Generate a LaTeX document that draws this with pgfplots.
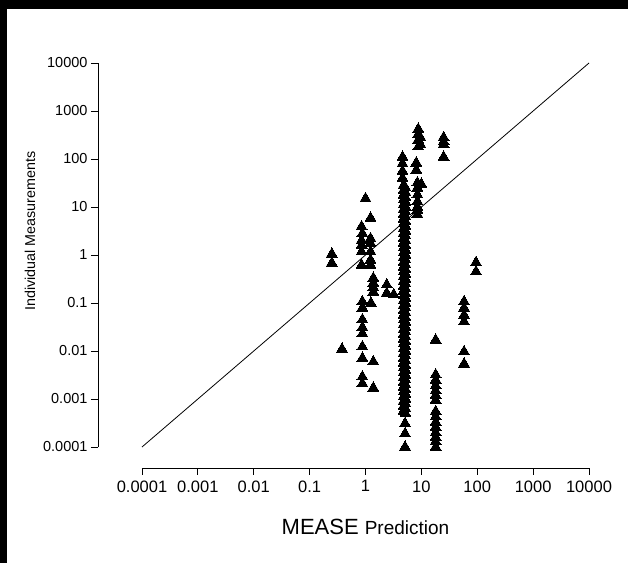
\documentclass[border=0pt]{standalone}
\usepackage{fontspec}
\setmainfont{Liberation Sans}
\usepackage{pgfplots}
\pgfplotsset{compat=1.18}
\begin{document}
\begin{tikzpicture}[x=1pt,y=1pt]
\useasboundingbox (0,0) rectangle (628,563);
\fill[white] (0,0) rectangle (628,563);
\fill[black] (0,554) rectangle (628,563);
\fill[black] (0,0) rectangle (7,563);
\begin{axis}[
  at={(142pt,116pt)}, anchor=south west,
  scale only axis, width=447pt, height=384pt,
  xmode=log, ymode=log,
  xmin=1e-4, xmax=1e4, ymin=1e-4, ymax=1e4,
  axis x line=bottom, axis y line=left,
  axis x line shift=21pt, axis y line shift=44pt,
  x axis line style={-, line width=0.8pt},
  y axis line style={-, line width=0.8pt},
  tick align=outside, major tick length=7pt,
  tick style={black, line width=0.8pt},
  xminorticks=false, yminorticks=false,
  xtick={1e-4,1e-3,1e-2,1e-1,1,10,100,1000,10000},
  ytick={1e-4,1e-3,1e-2,1e-1,1,10,100,1000,10000},
  xticklabels={0.0001,0.001,0.01,0.1,1,10,100,1000,10000},
  yticklabels={0.0001,0.001,0.01,0.1,1,10,100,1000,10000},
  xticklabel style={font=\fontsize{16.5}{19}\selectfont, yshift=-2pt},
  yticklabel style={font=\fontsize{14.5}{17}\selectfont},
  xlabel={{\fontsize{22}{26}\selectfont MEASE}\hspace{6pt}{\fontsize{19}{23}\selectfont Prediction}},
  ylabel={Individual Measurements},
  xlabel style={at={(axis description cs:0.5,-0.208)}, anchor=center},
  ylabel style={at={(axis description cs:-0.2506,0.562)}, anchor=center, font=\fontsize{14.3}{17}\selectfont},
  clip=false,
]
\addplot[black, line width=0.8pt] coordinates {(1e-4,1e-4) (1e4,1e4)};
\addplot[only marks, mark=triangle*, mark size=6.3pt, mark options={fill=black, draw=black, line width=0pt}] table {
x y
0.25 1.05
0.25 0.68
0.38 0.011
1.0 15
0.85 3.9
0.88 2.8
0.85 2.0
0.85 1.6
0.85 1.17
0.85 0.62
0.88 0.107
0.88 0.079
0.88 0.045
0.88 0.031
0.88 0.023
0.88 0.0123
0.88 0.0071
0.88 0.0029
0.88 0.0021
1.23 5.9
1.23 2.2
1.23 1.75
1.23 1.17
1.23 0.79
1.23 0.62
1.38 0.33
1.38 0.26
1.38 0.21
1.38 0.17
1.25 0.10
1.38 0.006
1.38 0.0017
2.4 0.24
2.4 0.16
3.2 0.15
4.6 110
4.6 80
4.6 56
4.6 40
4.8 28.2
4.8 22.4
4.8 17.8
4.8 14.1
4.8 11.2
4.8 8.91
4.8 7.08
4.8 5.62
4.8 4.47
4.8 3.55
4.8 2.82
4.8 2.24
4.8 1.78
4.8 1.41
4.8 1.12
4.8 0.891
4.8 0.708
4.8 0.562
4.8 0.447
4.8 0.355
4.8 0.282
4.8 0.224
4.8 0.178
4.8 0.141
4.8 0.112
4.8 0.0891
4.8 0.0708
4.8 0.0562
4.8 0.0447
4.8 0.0355
4.8 0.0282
4.8 0.0224
4.8 0.0178
4.8 0.0141
4.8 0.0112
4.8 0.00891
4.8 0.00708
4.8 0.00562
4.8 0.00447
4.8 0.00355
4.8 0.00282
4.8 0.00224
4.8 0.00178
4.8 0.00141
4.8 0.00112
4.8 0.000891
4.8 0.000708
4.8 0.000562
5.2 25.1
5.2 20.0
5.2 15.8
5.2 12.6
5.2 10.0
5.2 7.94
5.2 6.31
5.2 5.01
5.2 3.98
5.2 3.16
5.2 2.51
5.2 2.00
5.2 1.58
5.2 1.26
5.2 1.00
5.2 0.794
5.2 0.631
5.2 0.501
5.2 0.398
5.2 0.316
5.2 0.251
5.2 0.200
5.2 0.158
5.2 0.126
5.2 0.100
5.2 0.0794
5.2 0.0631
5.2 0.0501
5.2 0.0398
5.2 0.0316
5.2 0.0251
5.2 0.0200
5.2 0.0158
5.2 0.0126
5.2 0.0100
5.2 0.00794
5.2 0.00631
5.2 0.00501
5.2 0.00398
5.2 0.00316
5.2 0.00251
5.2 0.00200
5.2 0.00158
5.2 0.00126
5.2 0.00100
5.2 0.000794
5.2 0.000631
5.2 0.000501
5.1 0.00031
5.1 0.00019
5.1 0.0001
8.8 420
8.8 330
8.8 250
8.8 180
9.6 280
9.6 200
8.1 83
8.1 59
10 30
8.5 32
8.5 25
8.5 18
8.5 13
8.5 10
8.5 8.7
8.5 7
25 280
25 230
25 200
25 110
18 0.017
18 0.0032
18 0.0025
18 0.0019
18 0.0015
18 0.0012
18 0.00095
18 0.00055
18 0.00043
18 0.00033
18 0.00026
18 0.00020
18 0.00016
18 0.00013
18 0.0001
58 0.107
58 0.079
58 0.056
58 0.041
58 0.0097
58 0.0054
95 0.70
95 0.45
};
\end{axis}
\end{tikzpicture}
\end{document}
